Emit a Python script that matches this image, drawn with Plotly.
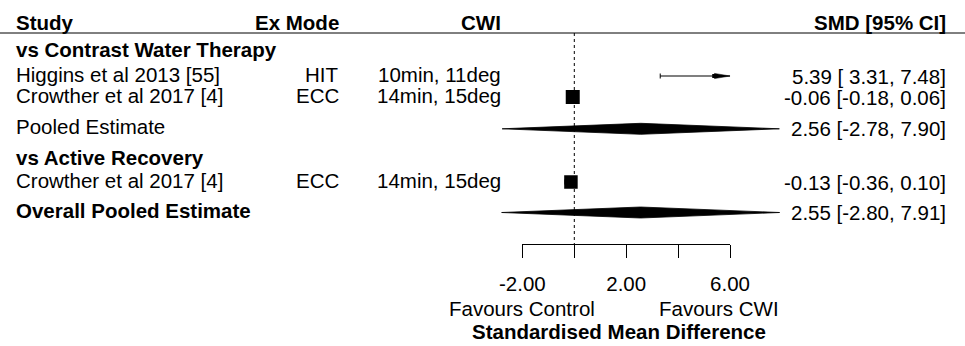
import plotly.graph_objects as go

# ---------------- data ----------------
study = ["Higgins et al 2013 [55]", "Crowther et al 2017 [4]", "Crowther et al 2017 [4]"]
ex_mode = ["HIT", "ECC", "ECC"]
cwi = ["10min, 11deg", "14min, 15deg", "14min, 15deg"]
smd = [5.39, -0.06, -0.13]
ci_lo = [3.31, -0.18, -0.36]
ci_hi = [7.48, 0.06, 0.10]
box_size = [4, 14, 13.5]          # relative weights shown as square size

pooled_labels = ["Pooled Estimate", "Overall Pooled Estimate"]
pooled_est = [2.56, 2.55]
pooled_lo = [-2.78, -2.80]
pooled_hi = [7.90, 7.91]

group_labels = ["vs Contrast Water Therapy", "vs Active Recovery"]
header_labels = ["Study", "Ex Mode", "CWI", "SMD [95% CI]"]

tick_vals = [-2, 0, 2, 4, 6]
tick_text = ["-2.00", "", "2.00", "", "6.00"]
alim = [-2, 6]

# ---------------- layout constants ----------------
W, H = 965, 346
X0_PX, PX_PER_UNIT = 574.3, 25.96
xmin = -X0_PX / PX_PER_UNIT
xmax = (W - X0_PX) / PX_PER_UNIT

study_rows = [76, 97, 182]
pooled_rows = [128.8, 212.5]
group_rows = [49, 157]
header_row = 22
header_line_y = 33
axis_y = 244
FONT = "Liberation Sans, Arial, Helvetica, sans-serif"
FS = 20.5


def px(x):
    return x / W


def fmt(e, l, h):
    lo = f"{l:.2f}"
    if l >= 0:
        lo = " " + lo
    return f"{e:.2f} [{lo}, {h:.2f}]"


fig = go.Figure()

# dashed reference line at 0
fig.add_trace(go.Scatter(x=[0, 0], y=[header_line_y, axis_y], mode="lines",
                         line=dict(color="black", width=1, dash="3px,3px"),
                         hoverinfo="skip", showlegend=False))

# study CIs, boxes, arrows
for i in range(len(smd)):
    r = study_rows[i]
    hi_clip = min(ci_hi[i], alim[1])
    lo_clip = max(ci_lo[i], alim[0])
    fig.add_trace(go.Scatter(x=[lo_clip, hi_clip], y=[r, r], mode="lines",
                             line=dict(color="black", width=1.2),
                             hoverinfo="skip", showlegend=False))
    if ci_hi[i] > alim[1]:
        L = 0.6
        fig.add_trace(go.Scatter(x=[alim[1] - L, alim[1], alim[1] - L, alim[1] - L],
                                 y=[r - 2.6, r, r + 2.6, r - 2.6], mode="lines",
                                 fill="toself", fillcolor="black",
                                 line=dict(color="black", width=0.5),
                                 hoverinfo="skip", showlegend=False))
    if ci_lo[i] >= alim[0]:
        fig.add_trace(go.Scatter(x=[ci_lo[i], ci_lo[i]], y=[r - 2.5, r + 2.5], mode="lines",
                                 line=dict(color="black", width=1),
                                 hoverinfo="skip", showlegend=False))
    fig.add_trace(go.Scatter(x=[smd[i]], y=[r], mode="markers",
                             marker=dict(symbol="square", size=box_size[i], color="black",
                                         line=dict(width=0)),
                             hoverinfo="skip", showlegend=False))

# pooled diamonds
for i in range(len(pooled_est)):
    r = pooled_rows[i]
    h = 5.5
    fig.add_trace(go.Scatter(x=[pooled_lo[i], pooled_est[i], pooled_hi[i], pooled_est[i], pooled_lo[i]],
                             y=[r, r - h, r, r + h, r], mode="lines", fill="toself",
                             fillcolor="black", line=dict(color="black", width=0.8),
                             hoverinfo="skip", showlegend=False))

# invisible trace for the visible axis subplot
fig.add_trace(go.Scatter(x=[alim[0]], y=[axis_y], xaxis="x2", yaxis="y", mode="markers",
                         marker=dict(opacity=0), hoverinfo="skip", showlegend=False))

ann = []


def add_text(text, xpx, ypx, anchor, bold=False):
    ann.append(dict(text=f"<b>{text}</b>" if bold else text, x=px(xpx), y=ypx,
                    xref="paper", yref="y", xanchor=anchor, yanchor="middle",
                    showarrow=False, font=dict(family=FONT, size=FS, color="black")))


# headers
add_text(header_labels[0], 14, header_row, "left", True)
add_text(header_labels[1], 341, header_row, "right", True)
add_text(header_labels[2], 503, header_row, "right", True)
add_text(header_labels[3], 948, header_row, "right", True)

# group labels
for g, r in zip(group_labels, group_rows):
    add_text(g, 14, r, "left", True)

# studies
for i in range(len(smd)):
    r = study_rows[i]
    add_text(study[i], 14, r - 2, "left")
    add_text(ex_mode[i], 341, r - 2, "right")
    add_text(cwi[i], 503, r - 2, "right")
    add_text(fmt(smd[i], ci_lo[i], ci_hi[i]), 948, r, "right")

# pooled
for i in range(len(pooled_est)):
    r = pooled_rows[i]
    add_text(pooled_labels[i], 14, r - 2, "left", bold=(i == 1))
    add_text(fmt(pooled_est[i], pooled_lo[i], pooled_hi[i]), 948, r, "right")

# favours + x label
add_text("Favours Control", 597, 308, "right")
add_text("Favours CWI", 657, 308, "left")
add_text("Standardised Mean Difference", 619, 331.5, "center", True)

fig.update_layout(
    template="none",
    width=W, height=H, margin=dict(l=0, r=0, t=0, b=0, pad=0, autoexpand=False),
    paper_bgcolor="white", plot_bgcolor="rgba(0,0,0,0)",
    showlegend=False, annotations=ann,
    shapes=[dict(type="line", xref="paper", yref="y", x0=0, x1=1,
                 y0=header_line_y, y1=header_line_y, line=dict(color="black", width=1))],
    xaxis=dict(range=[xmin, xmax], domain=[0, 1], visible=False, fixedrange=True, automargin=False),
    yaxis=dict(range=[H, 0], domain=[0, 1], visible=False, fixedrange=True, automargin=False),
    xaxis2=dict(range=alim, domain=[px(X0_PX + alim[0] * PX_PER_UNIT), px(X0_PX + alim[1] * PX_PER_UNIT)],
                anchor="free", position=1 - axis_y / H, side="bottom",
                showline=True, linecolor="black", linewidth=1,
                ticks="outside", ticklen=13, tickwidth=1, tickcolor="black",
                tickvals=tick_vals, ticktext=tick_text,
                tickfont=dict(family=FONT, size=FS, color="black"),
                ticklabelstandoff=8, automargin=False,
                showgrid=False, zeroline=False, fixedrange=True),
)

fig.write_html("out.html", config={"displayModeBar": False},
               post_script="document.body.style.margin='0';document.body.style.padding='0';")
